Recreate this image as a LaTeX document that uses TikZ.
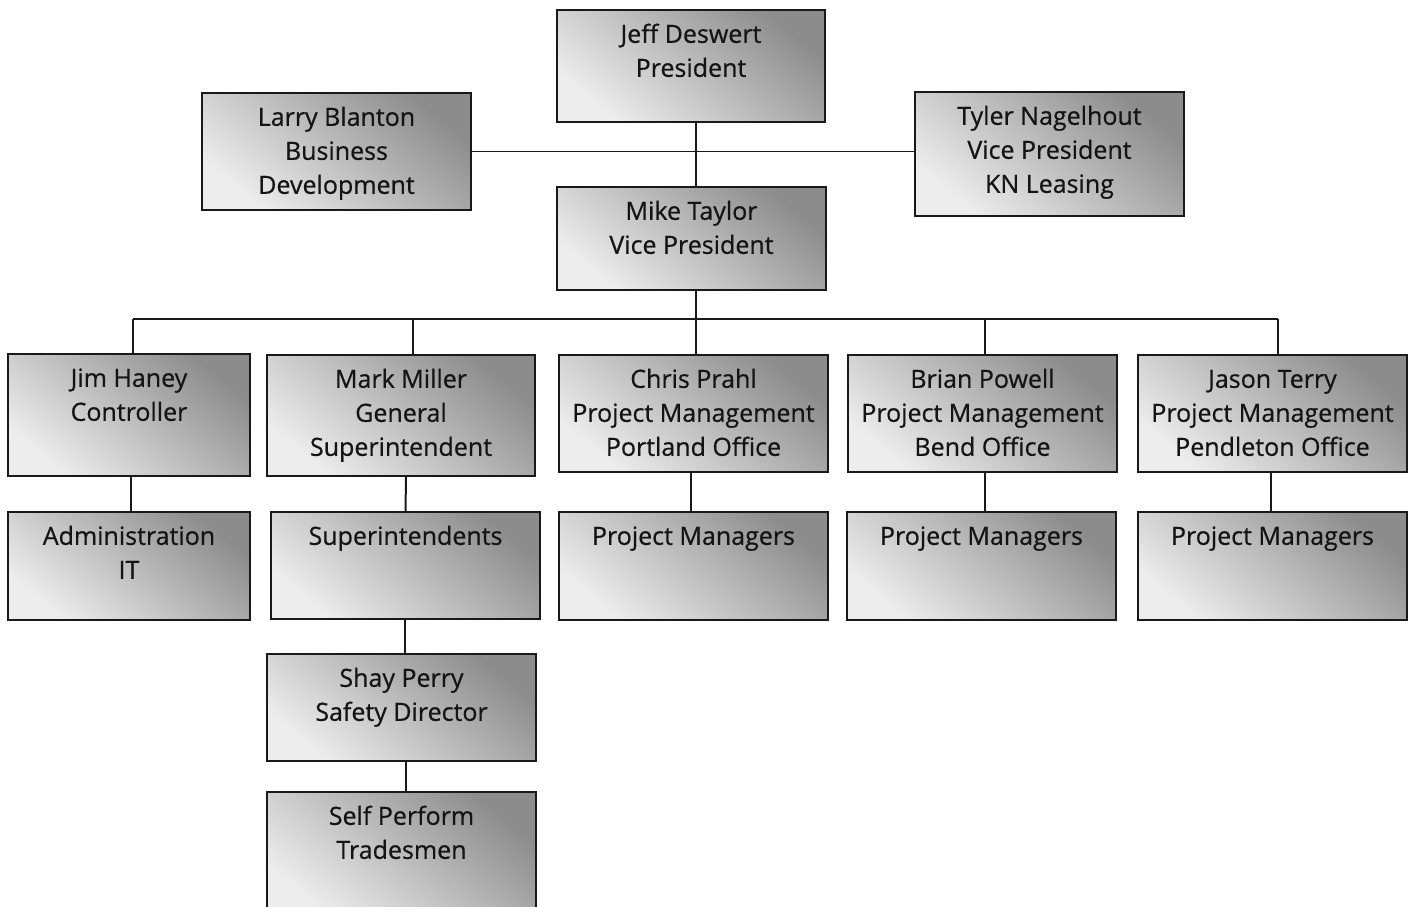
\documentclass[tikz,border=0pt]{standalone}
\usepackage{fontspec}
\setmainfont{Open Sans}[FakeBold=0.6]
\newcommand\bxt[3]{\begin{minipage}[c][#2][t]{#1}\centering\vspace*{9pt}\fontsize{25}{34}\selectfont\strut #3\end{minipage}}
\tikzset{
  orgbox/.style={draw=black!90, line width=2pt, inner sep=0pt, shading=axis,
    top color=black!45, bottom color=black!7, shading angle=-40, text=black!92},
  conn/.style={draw=black!90, line width=2pt}
}
\begin{document}
\begin{tikzpicture}[x=1pt,y=-1pt]
\clip (0,0) rectangle (1414,907);
\fill[white] (0,0) rectangle (1414,907);
% nodes
\node[orgbox] (jeff)  at (691,66)     {\bxt{268pt}{112pt}{Jeff Deswert\\President}};
\node[orgbox] (larry) at (336.5,151.5) {\bxt{269pt}{117pt}{Larry Blanton\\Business\\Development}};
\node[orgbox] (tyler) at (1049.5,154) {\bxt{269pt}{124pt}{Tyler Nagelhout\\Vice President\\KN Leasing}};
\node[orgbox] (mike)  at (691.5,238.5) {\bxt{269pt}{103pt}{Mike Taylor\\Vice President}};
\node[orgbox] (jim)   at (129,415)    {\bxt{242pt}{122pt}{Jim Haney\\Controller}};
\node[orgbox] (mark)  at (401,415.5)  {\bxt{268pt}{121pt}{Mark Miller\\General\\Superintendent}};
\node[orgbox] (chris) at (693.5,413.5) {\bxt{269pt}{117pt}{Chris Prahl\\Project Management\\Portland Office}};
\node[orgbox] (brian) at (982.5,413.5) {\bxt{269pt}{117pt}{Brian Powell\\Project Management\\Bend Office}};
\node[orgbox] (jason) at (1272.5,413.5) {\bxt{269pt}{117pt}{Jason Terry\\Project Management\\Pendleton Office}};
\node[orgbox] (admin) at (129,566)    {\bxt{242pt}{108pt}{Administration\\IT}};
\node[orgbox] (super) at (405.5,565.5) {\bxt{269pt}{107pt}{Superintendents}};
\node[orgbox] (pma)   at (693.5,566)  {\bxt{269pt}{108pt}{Project Managers}};
\node[orgbox] (pmb)   at (981.5,566)  {\bxt{269pt}{108pt}{Project Managers}};
\node[orgbox] (pmc)   at (1272.5,566) {\bxt{269pt}{108pt}{Project Managers}};
\node[orgbox] (shay)  at (401.5,707.5) {\bxt{269pt}{107pt}{Shay Perry\\Safety Director}};
\node[orgbox] (self)  at (401.5,854.5) {\bxt{269pt}{125pt}{Self Perform\\Tradesmen}};
% connectors
\coordinate (busL) at (133,319);
\coordinate (busR) at (1278,319);
\draw[conn] ([xshift=5pt]jeff.south) -- ([xshift=5pt]jeff.south |- mike.north);
\draw[conn, line width=1.8pt] (larry.east) -- (larry.east -| tyler.west);
\draw[conn] ([xshift=4.5pt]mike.south) -- ([xshift=4.5pt]mike.south |- busL);
\draw[conn] (busL) -- (busR);
\draw[conn] (busL) -- (busL |- jim.north);
\draw[conn] ([xshift=12pt]mark.north |- busL) -- ([xshift=12pt]mark.north);
\draw[conn] ([xshift=2.5pt]chris.north |- busL) -- ([xshift=2.5pt]chris.north);
\draw[conn] ([xshift=2.5pt]brian.north |- busL) -- ([xshift=2.5pt]brian.north);
\draw[conn] (busR) -- (busR |- jason.north);
\draw[conn] ([xshift=2pt]jim.south) -- ([xshift=2pt]jim.south |- admin.north);
\draw[conn] ([xshift=5pt]mark.south) -- (super.north);
\draw[conn] ([xshift=-2.5pt]chris.south) -- ([xshift=-2.5pt]chris.south |- pma.north);
\draw[conn] ([xshift=2.5pt]brian.south) -- ([xshift=2.5pt]brian.south |- pmb.north);
\draw[conn] ([xshift=-1.5pt]jason.south) -- ([xshift=-1.5pt]jason.south |- pmc.north);
\draw[conn] ([xshift=-0.5pt]super.south) -- ([xshift=-0.5pt]super.south |- shay.north);
\draw[conn] ([xshift=4.5pt]shay.south) -- ([xshift=4.5pt]shay.south |- self.north);
\end{tikzpicture}
\end{document}
